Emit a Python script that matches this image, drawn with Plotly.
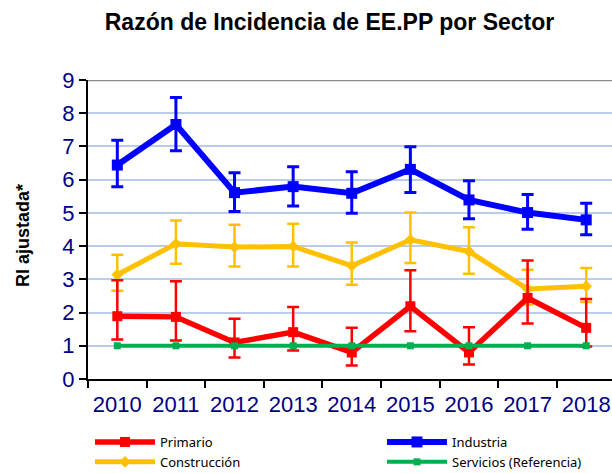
import plotly.graph_objects as go

years = ["2010", "2011", "2012", "2013", "2014", "2015", "2016", "2017", "2018"]

primario = [1.89, 1.87, 1.10, 1.41, 0.80, 2.19, 0.80, 2.44, 1.54]
primario_hi = [2.97, 2.94, 1.81, 2.17, 1.54, 3.27, 1.56, 3.57, 2.41]
primario_lo = [1.19, 1.16, 0.65, 0.86, 0.41, 1.44, 0.44, 1.67, 0.98]

industria = [6.44, 7.66, 5.61, 5.79, 5.59, 6.31, 5.39, 5.01, 4.79]
industria_hi = [7.19, 8.47, 6.21, 6.39, 6.24, 6.99, 5.97, 5.55, 5.29]
industria_lo = [5.79, 6.87, 5.04, 5.21, 4.99, 5.61, 4.82, 4.51, 4.34]

construccion = [3.14, 4.07, 3.97, 3.99, 3.41, 4.19, 3.84, 2.71, 2.79]
construccion_hi = [3.74, 4.77, 4.64, 4.67, 4.11, 5.01, 4.57, 3.29, 3.34]
construccion_lo = [2.66, 3.47, 3.39, 3.39, 2.84, 3.49, 3.17, 2.24, 2.32]

servicios = [1, 1, 1, 1, 1, 1, 1, 1, 1]

y_ticks = [0, 1, 2, 3, 4, 5, 6, 7, 8, 9]

FONT = "Arial"


def err(vals, hi, lo, color, thick, width):
    return dict(type="data", symmetric=False,
                array=[h - v for h, v in zip(hi, vals)],
                arrayminus=[v - l for v, l in zip(vals, lo)],
                color=color, thickness=thick, width=width)


fig = go.Figure()

fig.add_trace(go.Scatter(
    x=years, y=construccion, name="Construcción", mode="lines+markers",
    line=dict(color="#FFC000", width=5),
    marker=dict(symbol="diamond", size=9, color="#FFC000"),
    error_y=err(construccion, construccion_hi, construccion_lo, "#FFC000", 2.5, 6),
    legend="legend", legendrank=2))

fig.add_trace(go.Scatter(
    x=years, y=primario, name="Primario", mode="lines+markers",
    line=dict(color="#FF0000", width=5.5),
    marker=dict(symbol="square", size=10, color="#FF0000"),
    error_y=err(primario, primario_hi, primario_lo, "#FF0000", 2.5, 6),
    legend="legend", legendrank=1))

fig.add_trace(go.Scatter(
    x=years, y=industria, name="Industria", mode="lines+markers",
    line=dict(color="#0000FF", width=6),
    marker=dict(symbol="square", size=11, color="#0000FF"),
    error_y=err(industria, industria_hi, industria_lo, "#0000FF", 3, 6),
    legend="legend2", legendrank=1))

fig.add_trace(go.Scatter(
    x=years, y=servicios, name="Servicios (Referencia)", mode="lines+markers",
    line=dict(color="#00B050", width=4),
    marker=dict(symbol="square", size=7, color="#00B050"),
    legend="legend2", legendrank=2))

fig.add_shape(type="line", xref="paper", yref="y", x0=0, x1=1, y0=9, y1=9,
              line=dict(color="#8C8C8C", width=2.5))

fig.add_annotation(text="<b>RI ajustada*</b>", textangle=-90, xref="paper", yref="paper",
                   x=(23 - 88) / 524, y=(379 - 236) / 299, xanchor="center", yanchor="middle",
                   showarrow=False, font=dict(family=FONT, size=18, color="#000000"))

legend_common = dict(orientation="v", xref="container", yref="container",
                     xanchor="left", y=1 - 427 / 473, yanchor="top",
                     itemwidth=60, tracegroupgap=0, traceorder="normal",
                     font=dict(family="Noto Sans", size=13, color="#000000"),
                     bgcolor="rgba(0,0,0,0)")

fig.update_layout(
    width=612, height=473,
    margin=dict(l=88, r=0, t=80, b=94, autoexpand=False),
    paper_bgcolor="white", plot_bgcolor="white",
    title=dict(text="<b>Razón de Incidencia de EE.PP por Sector</b>",
               x=329.5 / 612, xanchor="center", xref="container",
               y=1 - 22 / 473, yanchor="middle", yref="container",
               font=dict(family=FONT, size=23, color="#000000")),
    xaxis=dict(type="category", range=[-0.5, 8.44], tickson="boundaries",
               ticks="outside", ticklen=7, tickcolor="#000000", tickwidth=1.5,
               showline=True, linecolor="#000000", linewidth=2, showgrid=False,
               automargin=False, ticklabelstandoff=5,
               tickfont=dict(family=FONT, size=22, color="#000080")),
    yaxis=dict(range=[0, 9], tickvals=y_ticks, ticks="outside", ticklen=7,
               tickcolor="#000000", tickwidth=1.5,
               showline=True, linecolor="#000000", linewidth=2,
               showgrid=True, gridcolor="#B9CDE8", gridwidth=1.5, zeroline=False,
               automargin=False,
               tickfont=dict(family=FONT, size=22, color="#000080")),
    showlegend=True,
    legend=dict(legend_common, x=90 / 612),
    legend2=dict(legend_common, x=382 / 612),
)

fig.write_html("out.html", config={"displayModeBar": False},
               post_script="document.body.style.margin='0';document.body.style.padding='0';")
